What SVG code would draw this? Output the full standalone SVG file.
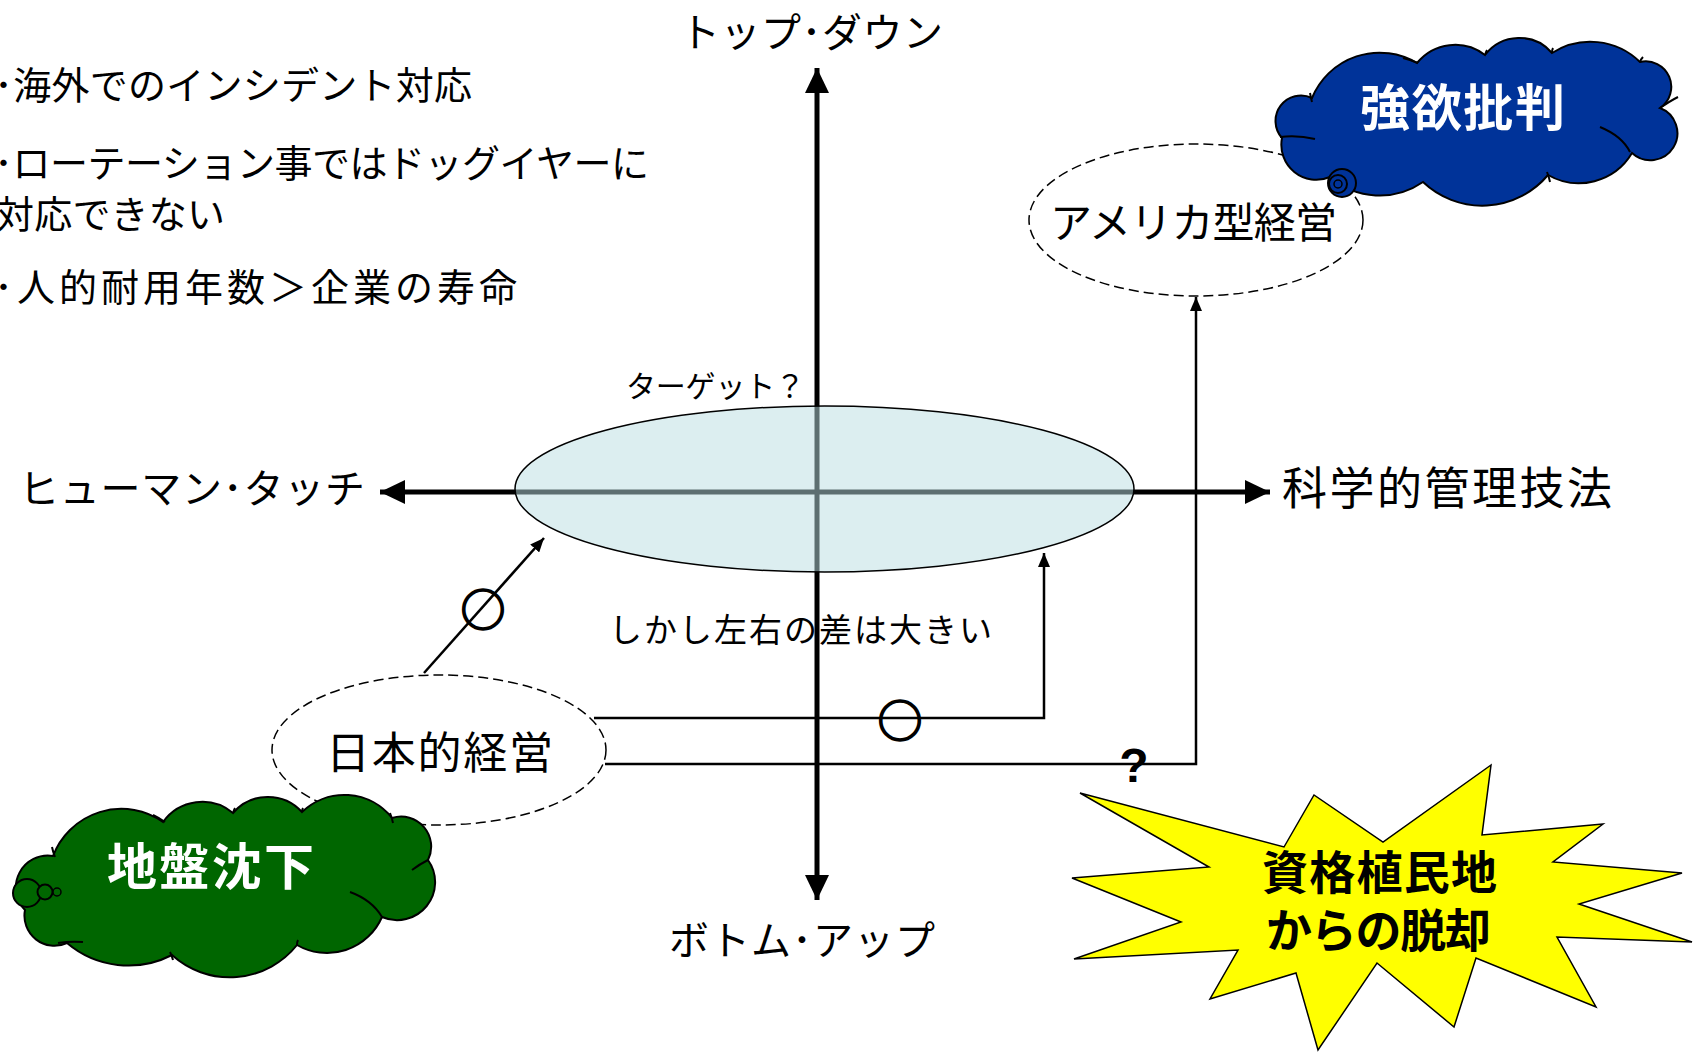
<svg xmlns="http://www.w3.org/2000/svg" width="1693" height="1052" viewBox="0 0 1693 1052">
<style>
.t{font-family:'Noto Sans CJK JP','Noto Sans CJK SC',sans-serif;fill:#000}
.w{fill:#fff;font-weight:bold}
.b{font-weight:bold}
.o{stroke:#000;stroke-width:1.6}
.conn{stroke:#000;stroke-width:2.5;fill:none}
.axis{stroke:#000;stroke-width:5;fill:none}
.dash{fill:#fff;stroke:#000;stroke-width:1.5;stroke-dasharray:10 5}
.cloud{stroke:#000;stroke-width:2}
.inner{fill:none;stroke:#000;stroke-width:2}
</style>
<defs>
<marker id="ah" viewBox="0 0 14 12" refX="14" refY="6" markerWidth="14" markerHeight="12" markerUnits="userSpaceOnUse" orient="auto"><path d="M0,0 L14,6 L0,12 z" fill="#000"/></marker>
<marker id="axh" viewBox="0 0 25 24" refX="25" refY="12" markerWidth="25" markerHeight="24" markerUnits="userSpaceOnUse" orient="auto"><path d="M0,0 L25,12 L0,24 z" fill="#000"/></marker>
</defs>
<rect width="1693" height="1052" fill="#fff"/>

<g id="axes">
<line class="axis" x1="817" y1="492" x2="817" y2="68" marker-end="url(#axh)"/>
<line class="axis" x1="817" y1="492" x2="817" y2="900" marker-end="url(#axh)"/>
<line class="axis" x1="817" y1="492" x2="380" y2="492" marker-end="url(#axh)"/>
<line class="axis" x1="817" y1="492" x2="1270" y2="492" marker-end="url(#axh)"/>
</g>

<g id="target">
<ellipse cx="824.5" cy="489" rx="309.5" ry="83" fill="rgb(186,222,225)" fill-opacity="0.5" stroke="#000" stroke-width="1.5"/>
<text class="t" x="626" y="397" font-size="30" textLength="179">ターゲット？</text>
</g>

<g id="connectors">
<line class="conn" x1="424" y1="673" x2="544" y2="538" marker-end="url(#ah)"/>
<path class="conn" d="M594,718 H1044 V553" marker-end="url(#ah)"/>
<path class="conn" d="M605,764 H1196 V297" marker-end="url(#ah)"/>
<text class="t b o" x="483" y="607" font-size="45" text-anchor="middle" dominant-baseline="central">○</text>
<text class="t b o" x="900" y="718" font-size="45" text-anchor="middle" dominant-baseline="central">○</text>
<text x="1134" y="782" font-family="'Liberation Sans',Arial,sans-serif" font-weight="bold" font-size="48" text-anchor="middle">?</text>
</g>

<g id="america">
<ellipse class="dash" cx="1196" cy="220" rx="167" ry="76"/>
<text class="t" x="1050" y="238" font-size="42" textLength="287">アメリカ型経営</text>
</g>

<g id="japan">
<ellipse class="dash" cx="439" cy="750" rx="167" ry="75"/>
<text class="t" x="326" y="769" font-size="44" textLength="227">日本的経営</text>
</g>

<g id="greed">
<path class="cloud" fill="#003399" d="M1282,138 A25.5,25.5 0 0 1 1312,98 A73,73 0 0 1 1417,63 A49,49 0 0 1 1485,55 A43,43 0 0 1 1552,53 A71,71 0 0 1 1640,62 A25.5,25.5 0 0 1 1660,108 A27,27 0 1 1 1632,153 A62,62 0 0 1 1548,175 A86,86 0 0 1 1423,182 A76,76 0 0 1 1330,177 A35,35 0 0 1 1282,138 Z"/>
<path class="inner" d="M1280,137 Q1298,135 1315,139 M1310,93 Q1311,98 1312,102 M1403,58 Q1411,60 1418,63 M1640,62 Q1641,59 1643,57 M1660,108 Q1670,101 1678,97 M1600,127 Q1622,136 1630,152 M1547,172 Q1549,177 1550,182 M1485,55 Q1486,52 1487,50 M1552,53 Q1552,50 1553,48"/>
<circle cx="1342" cy="183" r="14" fill="#003399" stroke="#000" stroke-width="2"/>
<circle cx="1338" cy="184" r="9" fill="#003399" stroke="#000" stroke-width="2"/>
<circle cx="1338" cy="184" r="4" fill="#003399" stroke="#000" stroke-width="1.5"/>
<text class="t w" x="1360" y="126" font-size="50" textLength="205">強欲批判</text>
</g>

<g id="subsidence">
<path class="cloud" fill="#006600" d="M25,910 A32,32 0 0 1 53,856 A73,73 0 0 1 163,822 A48,48 0 0 1 233,813 A46,46 0 0 1 302,812 A61,61 0 0 1 392,818 A30,30 0 0 1 428,860 A38,38 0 0 1 382,917 A60,60 0 0 1 297,945 A86,86 0 0 1 172,955 A95,95 0 0 1 67,943 A30,30 0 0 1 25,910 Z"/>
<path class="inner" d="M52,847 Q53,852 55,857 M153,815 Q159,818 165,822 M233,813 Q234,810 235,808 M302,812 Q302,810 303,808 M390,813 Q392,818 393,823 M412,870 Q420,864 428,860 M350,892 Q372,900 382,917 M297,945 Q297,942 298,940 M170,952 Q172,956 173,960 M58,943 Q70,941 83,942"/>
<circle cx="27" cy="893" r="14" fill="#006600" stroke="#000" stroke-width="2"/>
<circle cx="45" cy="892" r="7.5" fill="#006600" stroke="#000" stroke-width="2"/>
<circle cx="57" cy="892" r="4" fill="#006600" stroke="#000" stroke-width="1.5"/>
<text class="t w" x="107" y="885" font-size="50" textLength="207">地盤沈下</text>
</g>

<g id="escape">
<polygon fill="#ffff00" stroke="#000" stroke-width="1.5" points="1080,793 1284,847 1314,795 1383,842 1491,765 1482,835 1603,824 1553,862 1682,873 1579,904 1692,942 1557,937 1596,1007 1476,958 1454,1027 1377,963 1318,1050 1296,973 1210,999 1238,950 1074,959 1181,922 1072,878 1209,867"/>
<text class="t b" x="1262" y="889" font-size="46" textLength="235">資格植民地</text>
<text class="t b" x="1266" y="947" font-size="46" textLength="225">からの脱却</text>
</g>

<g id="labels">
<text class="t" x="680" y="47" font-size="40" textLength="263">トップ･ダウン</text>
<text class="t" x="669" y="955" font-size="40" textLength="266">ボトム･アップ</text>
<text class="t" x="19" y="503" font-size="40" textLength="346">ヒューマン･タッチ</text>
<text class="t" x="1282" y="505" font-size="45" textLength="330">科学的管理技法</text>
<text class="t" x="609" y="642" font-size="33" textLength="383">しかし左右の差は大きい</text>
</g>

<g id="notes">
<text class="t" x="-6" y="99" font-size="38" textLength="478">･海外でのインシデント対応</text>
<text class="t" x="-6" y="177" font-size="38" textLength="655">･ローテーション事ではドッグイヤーに</text>
<text class="t" x="-4" y="228" font-size="38" textLength="229">対応できない</text>
<text class="t" x="-6" y="301" font-size="38" textLength="523">･人的耐用年数＞企業の寿命</text>
</g>
</svg>
